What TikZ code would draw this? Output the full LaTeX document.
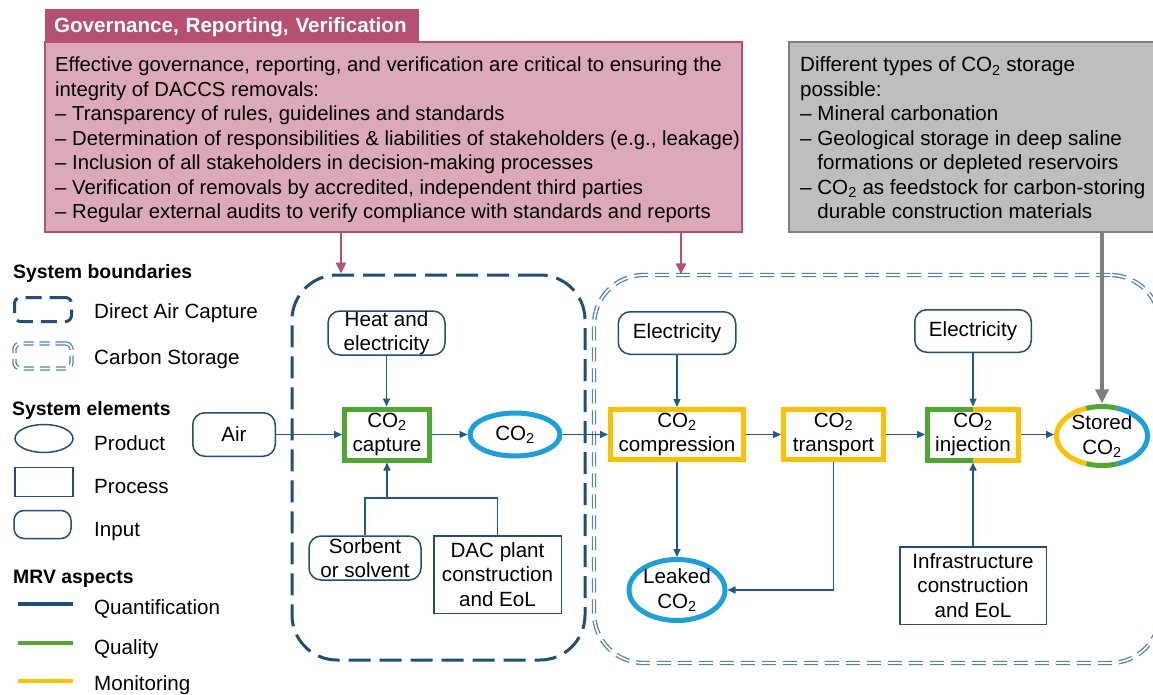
\documentclass[tikz,border=0pt]{standalone}
\usepackage{fontspec}
\setmainfont{Liberation Sans}
\usetikzlibrary{arrows.meta,shapes.geometric}
\definecolor{dblue}{HTML}{1F4E79}
\definecolor{lnblue}{HTML}{1F5A8A}
\definecolor{qgreen}{HTML}{4EA72E}
\definecolor{myellow}{HTML}{FFC000}
\definecolor{lblue}{HTML}{1AA0DB}
\definecolor{csblue}{HTML}{4F83B3}
\definecolor{pinkdark}{HTML}{B65070}
\definecolor{pinklight}{HTML}{DCA9B9}
\definecolor{grayfill}{HTML}{BEBEBE}
\definecolor{grayline}{HTML}{7F7F7F}
\begin{document}
\begin{tikzpicture}[x=1pt,y=-1pt,
  every node/.style={font=\fontsize{20.6}{24.5}\selectfont, text=black},
  inputbox/.style={draw=dblue, line width=1.5pt, rounded corners=12pt, inner sep=0pt, align=center, fill=white},
  procbox/.style={draw=dblue, line width=1.5pt, inner sep=0pt, align=center, fill=white},
  monbox/.style={draw=myellow, line width=5pt, fill=white, inner sep=0pt, align=center},
  qualbox/.style={draw=qgreen, line width=5pt, fill=white, inner sep=0pt, align=center},
  prodell/.style={ellipse, draw=lblue, line width=5pt, inner sep=0pt, align=center, fill=white},
  dacbound/.style={rectangle, draw=dblue, line width=3pt, rounded corners=45pt, dash pattern=on 22pt off 9pt, inner sep=0pt},
  csbound/.style={rectangle, draw=csblue, line width=1.3pt, double=white, double distance=1.8pt, rounded corners=50pt, dash pattern=on 14pt off 7pt, inner sep=0pt},
  conn/.style={draw=lnblue, line width=1.5pt},
  arr/.style={conn, -{Triangle[length=8pt,width=7pt]}},
  pinkarr/.style={draw=pinkdark, line width=2.5pt, -{Triangle[length=11pt,width=10pt]}},
  grayarr/.style={draw=grayline, line width=4.5pt, -{Triangle[length=14pt,width=13pt]}},
  legtext/.style={anchor=base west, inner sep=0pt},
  leghead/.style={anchor=base west, inner sep=0pt, font=\fontsize{19.4}{23}\selectfont\bfseries},
  blocktext/.style={anchor=base west, inner sep=0pt}
]
\useasboundingbox (0,0) rectangle (1153,695);
\clip (0,0) rectangle (1153,695);

% ---------- system boundaries ----------
\node[dacbound, minimum width=293pt, minimum height=385pt] (dacb) at (438.5,467.5) {};
\node[csbound, minimum width=566pt, minimum height=388pt] (csb) at (877,469) {};

% ---------- governance box ----------
\node[draw=pinkdark, fill=pinklight, line width=2pt, minimum width=697pt, minimum height=190pt, inner sep=0pt] (gov) at (393.5,137) {};
\node[draw=pinkdark, fill=pinkdark, line width=1pt, minimum width=373pt, minimum height=32pt, inner xsep=9pt, inner ysep=0pt, text width=355pt, align=left, text height=17pt, text depth=4pt, text=white, font=\fontsize{20.6}{24}\selectfont\bfseries] (hdr) at (231.5,26) {Governance, Reporting, Verification};
\node[blocktext, font=\fontsize{20.3}{24.5}\selectfont] (govtext) at (55,72) {\begin{tabular}[t]{@{}l@{}}
Effective governance, reporting, and verification are critical to ensuring the\\
integrity of DACCS removals:\\
– Transparency of rules, guidelines and standards\\
– Determination of responsibilities \& liabilities of stakeholders (e.g., leakage)\\
– Inclusion of all stakeholders in decision-making processes\\
– Verification of removals by accredited, independent third parties\\
– Regular external audits to verify compliance with standards and reports
\end{tabular}};

% ---------- storage types box ----------
\node[draw=grayline, fill=grayfill, line width=2pt, minimum width=380pt, minimum height=190pt, inner sep=0pt] (stor) at (979,137) {};
\node[blocktext] (stortext) at (800,72) {\begin{tabular}[t]{@{}l@{}}
Different types of CO\textsubscript{2} storage\\
possible:\\
– Mineral carbonation\\
– Geological storage in deep saline\\
\hphantom{– }formations or depleted reservoirs\\
– CO\textsubscript{2} as feedstock for carbon-storing\\
\hphantom{– }durable construction materials
\end{tabular}};

% ---------- process nodes ----------
\node[inputbox, minimum width=82.5pt, minimum height=43.5pt] (air) at (234,434.5) {Air};
\node[inputbox, minimum width=117pt, minimum height=44pt] (heat) at (386.5,333) {Heat and\\electricity};
\node[qualbox, minimum width=85pt, minimum height=51pt] (cap) at (387,434.5) {CO\textsubscript{2}\\capture};
\node[prodell, minimum width=90pt, minimum height=43pt] (co2) at (515,434.5) {CO\textsubscript{2}};
\node[inputbox, minimum width=112pt, minimum height=44pt] (sorb) at (365,558) {Sorbent\\or solvent};
\node[procbox, minimum width=127.5pt, minimum height=77.5pt] (dacp) at (497.5,574.5) {DAC plant\\construction\\and EoL};
\node[inputbox, minimum width=117.5pt, minimum height=42.5pt] (elec1) at (677,333) {Electricity};
\node[monbox, minimum width=133pt, minimum height=50pt] (comp) at (677,434.5) {CO\textsubscript{2}\\compression};
\node[monbox, minimum width=100pt, minimum height=50pt] (trans) at (833.5,434.5) {CO\textsubscript{2}\\transport};
\node[inputbox, minimum width=116.5pt, minimum height=42.5pt] (elec2) at (973,331) {Electricity};
\node[monbox, minimum width=91pt, minimum height=51pt] (inj) at (973,434.5) {CO\textsubscript{2}\\injection};
\draw[qgreen, line width=5pt, line join=miter] ([yshift=-2.5pt]inj.north) -- ([shift={(2.5pt,-2.5pt)}]inj.north west) -- ([shift={(2.5pt,2.5pt)}]inj.south west) -- ([yshift=2.5pt]inj.south);
\node[ellipse, minimum width=91pt, minimum height=59pt, inner sep=0pt, outer sep=2.5pt, fill=white, align=center] (stored) at (1102,436) {Stored\\CO\textsubscript{2}};
\draw[myellow, line width=5pt] (stored.center) ++(110:45.5pt and 29.5pt) arc[start angle=110, end angle=250, x radius=45.5pt, y radius=29.5pt];
\draw[lblue, line width=5pt] (stored.center) ++(-70:45.5pt and 29.5pt) arc[start angle=-70, end angle=70, x radius=45.5pt, y radius=29.5pt];
\draw[qgreen, line width=5pt] (stored.center) ++(70:45.5pt and 29.5pt) arc[start angle=70, end angle=110, x radius=45.5pt, y radius=29.5pt];
\draw[qgreen, line width=5pt] (stored.center) ++(250:45.5pt and 29.5pt) arc[start angle=250, end angle=290, x radius=45.5pt, y radius=29.5pt];
\node[prodell, minimum width=96pt, minimum height=61pt] (leak) at (677,590) {Leaked\\CO\textsubscript{2}};
\node[procbox, minimum width=146.5pt, minimum height=77.5pt] (infra) at (973,585.5) {Infrastructure\\construction\\and EoL};

% ---------- connectors ----------
\coordinate (jn) at (387,498);
\draw[arr] (air.east) -- (air.east -| cap.west);
\draw[arr] (heat.south) -- (heat.south |- cap.north);
\draw[conn] (sorb.north) -- (sorb.north |- jn) -- (dacp.north |- jn) -- (dacp.north);
\draw[arr] (jn) -- (cap.south);
\draw[arr] (cap.east) -- (cap.east -| co2.west);
\draw[arr] (co2.east) -- (co2.east -| comp.west);
\draw[arr] (elec1.south) -- (elec1.south |- comp.north);
\draw[arr] (comp.east) -- (comp.east -| trans.west);
\draw[arr] (trans.east) -- (trans.east -| inj.west);
\draw[arr] (elec2.south) -- (elec2.south |- inj.north);
\draw[arr] (infra.north) -- (infra.north |- inj.south);
\draw[arr] (inj.east) -- (inj.east -| stored.west);
\draw[arr] (comp.south) -- (comp.south |- leak.north);
\draw[arr] (trans.south) |- (leak.east);

\coordinate (pa) at (341,0);
\coordinate (pb) at (681,0);
\draw[pinkarr] (gov.south -| pa) -- (dacb.north -| pa);
\draw[pinkarr] (gov.south -| pb) -- (csb.north -| pb);
\draw[grayarr] (stor.south -| stored.north) -- (stored.north);

% ---------- legend ----------
\node[leghead] (lgsb) at (13,278) {System boundaries};
\node[dacbound, rounded corners=6pt, dash pattern=on 16pt off 8pt, minimum width=57pt, minimum height=24pt] (lgdac) at (43,309.5) {};
\node[legtext] (lgdact) at (94,318) {Direct Air Capture};
\node[csbound, rounded corners=6pt, dash pattern=on 10pt off 6pt, minimum width=57pt, minimum height=25pt] (lgcs) at (43,356) {};
\node[legtext] (lgcst) at (94,364) {Carbon Storage};
\node[leghead] (lgse) at (12,415) {System elements};
\node[ellipse, draw=dblue, line width=1.5pt, minimum width=58pt, minimum height=28pt, inner sep=0pt] (lgprod) at (44,438.5) {};
\node[legtext] (lgprodt) at (94,450) {Product};
\node[procbox, minimum width=58pt, minimum height=29pt] (lgproc) at (44,482) {};
\node[legtext] (lgproct) at (94,493) {Process};
\node[inputbox, rounded corners=10pt, minimum width=57pt, minimum height=28pt] (lginp) at (42.5,524.5) {};
\node[legtext] (lginpt) at (94,536) {Input};
\node[leghead] (lgmrv) at (13,583) {MRV aspects};
\draw[dblue, line width=4pt] (18,604) -- (73,604);
\node[legtext] (lgq) at (94,614) {Quantification};
\draw[qgreen, line width=4pt] (18,643) -- (73,643);
\node[legtext] (lgql) at (94,654) {Quality};
\draw[myellow, line width=4pt] (18,681) -- (73,681);
\node[legtext] (lgmon) at (94,690) {Monitoring};
\end{tikzpicture}
\end{document}
